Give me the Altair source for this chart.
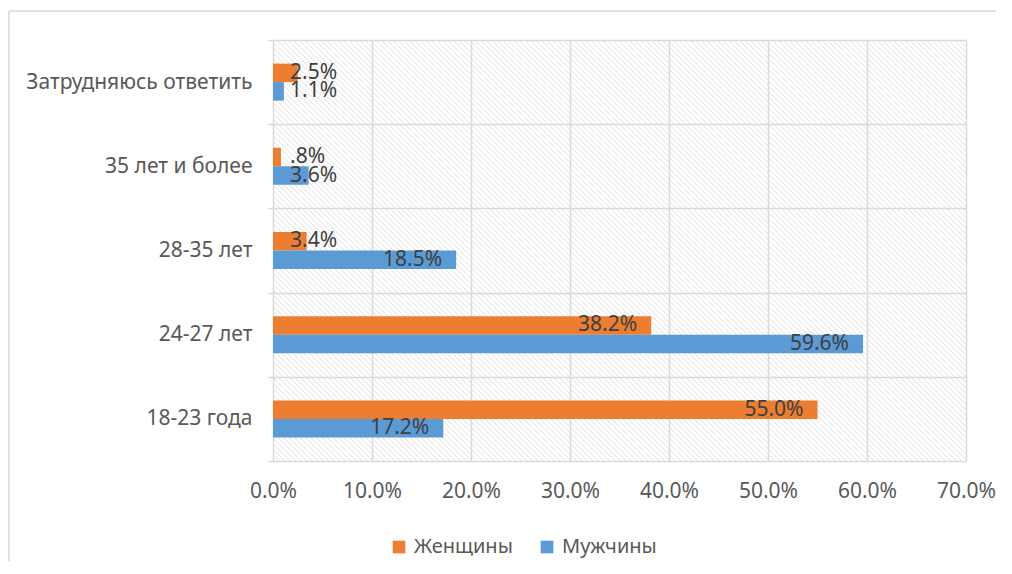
import altair as alt
import pandas as pd

categories = ["Затрудняюсь ответить", "35 лет и более", "28-35 лет", "24-27 лет", "18-23 года"]
series = ["Женщины", "Мужчины"]
women = [2.5, 0.8, 3.4, 38.2, 55.0]
men = [1.1, 3.6, 18.5, 59.6, 17.2]
women_labels = ["2.5%", ".8%", "3.4%", "38.2%", "55.0%"]
men_labels = ["1.1%", "3.6%", "18.5%", "59.6%", "17.2%"]
x_ticks = [0, 10, 20, 30, 40, 50, 60, 70]
colors = ["#ED7D31", "#5B9BD5"]

rows = []
for c, w, m, wl, ml in zip(categories, women, men, women_labels, men_labels):
    rows.append({"cat": c, "sex": series[0], "value": w, "label": wl})
    rows.append({"cat": c, "sex": series[1], "value": m, "label": ml})
df = pd.DataFrame(rows)

W, H = 693, 421
FONT = "Noto Sans"
GRID = "#d9d9d9"

x_scale = alt.Scale(domain=[0, 70], nice=False, zero=True)
x_axis = alt.Axis(
    title=None, values=x_ticks, labelExpr="format(datum.value, '.1f') + '%'",
    grid=True, gridColor=GRID, gridWidth=1.5, ticks=False, domain=False,
    labelFlush=False,
    labelFont=FONT, labelFontSize=21, labelColor="#595959", labelPadding=19,
)
y_enc = alt.Y(
    "cat:N", sort=categories,
    scale=alt.Scale(paddingInner=0, paddingOuter=0),
    axis=alt.Axis(
        title=None, tickBand="extent", grid=True, gridColor=GRID, gridWidth=1.5,
        ticks=True, tickColor=GRID, tickSize=5, tickWidth=1.5, domain=False,
        labelLimit=400,
        labelFont=FONT, labelFontSize=21, labelColor="#595959", labelPadding=16,
    ),
)
# spacer slots on each side keep the pair of bars centred in its band
yoff = alt.YOffset(
    "sex:N",
    scale=alt.Scale(domain=["_pad1"] + series + ["_pad2"], paddingInner=0, paddingOuter=0.276),
)
color = alt.Color(
    "sex:N", sort=series, scale=alt.Scale(domain=series, range=colors),
    legend=alt.Legend(
        title=None, orient="none", legendX=116, legendY=497, direction="horizontal",
        symbolType="square", symbolSize=160, symbolStrokeWidth=0,
        labelFont=FONT, labelFontSize=20, labelColor="#595959", columnPadding=24,
        labelOffset=5,
    ),
)

# decorative diagonal hatching of the plot area
hatch = alt.Chart(alt.sequence(0, 205, as_="i")).transform_calculate(
    hx="-43 + datum.i * 0.556",
    hx2="-43 + datum.i * 0.556 + 42.53",
    hy="1", hy2="0",
).mark_rule(clip=True, color="#dedede", strokeWidth=1).encode(
    x=alt.X("hx:Q", scale=x_scale, axis=x_axis),
    x2="hx2:Q",
    y=alt.Y("hy:Q", scale=alt.Scale(domain=[0, 1]), axis=None),
    y2="hy2:Q",
)

base = alt.Chart(df)
bars = base.mark_bar().encode(
    x=alt.X("value:Q", scale=x_scale, axis=x_axis),
    y=y_enc, yOffset=yoff, color=color,
)
text_big = base.transform_filter(alt.datum.value >= 10).mark_text(
    align="right", baseline="middle", dx=-14, font=FONT, fontSize=21, color="#404040"
).encode(x=alt.X("value:Q", scale=x_scale), y=y_enc, yOffset=yoff, text="label:N")
text_small = base.transform_filter(alt.datum.value < 10).mark_text(
    align="left", baseline="middle", dx=17, font=FONT, fontSize=21, color="#404040"
).encode(x=alt.datum(0, scale=x_scale), y=y_enc, yOffset=yoff, text="label:N")

data_layer = alt.layer(bars, text_big, text_small)

frame_src = alt.Chart(pd.DataFrame({"k": [0]}))
frame_top = frame_src.mark_rule(color=GRID, strokeWidth=1.5).encode(
    x=alt.value(-264), x2=alt.value(740), y=alt.value(-29), y2=alt.value(-29)
)
frame_left = frame_src.mark_rule(color=GRID, strokeWidth=1.5).encode(
    x=alt.value(-264), x2=alt.value(-264), y=alt.value(-29), y2=alt.value(540)
)

chart = alt.layer(hatch, data_layer, frame_top, frame_left).resolve_scale(
    y="independent"
).properties(
    width=W, height=H,
    padding={"left": 265, "top": 32, "right": 30, "bottom": 100},
    autosize=alt.AutoSizeParams(type="none"),
    background="white",
).configure_view(stroke=None)

chart.save("out.html", embed_options={"renderer": "svg", "actions": False})
